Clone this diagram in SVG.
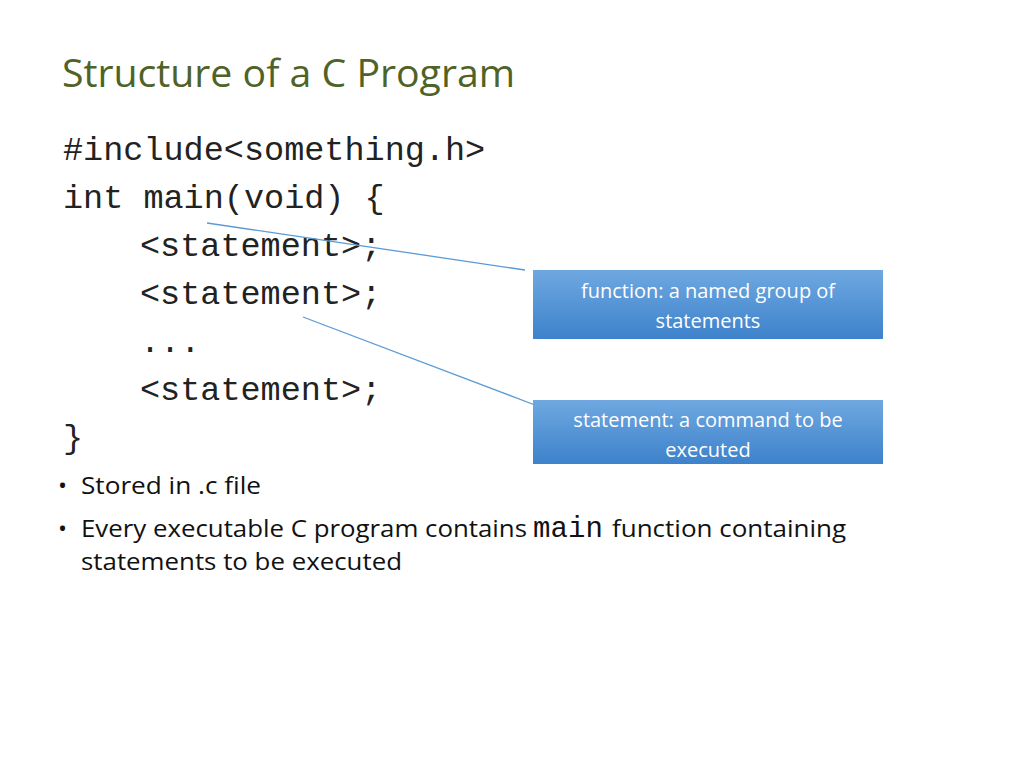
<svg xmlns="http://www.w3.org/2000/svg" width="1024" height="768" viewBox="0 0 1024 768">
<defs>
<linearGradient id="g" x1="0" y1="0" x2="0" y2="1"><stop offset="0" stop-color="#6fa8e0"/><stop offset="1" stop-color="#3d82cb"/></linearGradient>
<style>
.code{font-family:"Liberation Mono",monospace;font-size:33.5px;fill:#222}
.body{font-family:"Open Sans","Liberation Sans",sans-serif;font-size:24px;fill:#111}
.box{fill:url(#g)}
.bt{font-family:"Open Sans","Liberation Sans",sans-serif;font-size:20px;fill:#fff;text-anchor:middle}
.c{stroke:#5b9bd5;stroke-width:1.3;fill:none}
</style>
</defs>
<rect width="1024" height="768" fill="#fff"/>
<text x="62" y="87" font-family="'Open Sans','Liberation Sans',sans-serif" font-size="38" fill="#4f6228" textLength="453" lengthAdjust="spacingAndGlyphs">Structure of a C Program</text>
<g id="code">
<text class="code" x="63" y="160">#include&lt;something.h&gt;</text>
<text class="code" x="63" y="208">int main(void) {</text>
<text class="code" x="140" y="256">&lt;statement&gt;;</text>
<text class="code" x="140" y="304">&lt;statement&gt;;</text>
<text class="code" x="140" y="352">...</text>
<text class="code" x="140" y="400">&lt;statement&gt;;</text>
<text class="code" x="63" y="448">}</text>
</g>
<g id="connectors">
<line class="c" x1="207" y1="223" x2="525" y2="270"/>
<line class="c" x1="303" y1="317" x2="535" y2="405"/>
</g>
<g id="function-box">
<rect class="box" x="533" y="270" width="350" height="69"/>
<text class="bt" x="708" y="298">function: a named group of</text>
<text class="bt" x="708" y="328">statements</text>
</g>
<g id="statement-box">
<rect class="box" x="533" y="400" width="350" height="64"/>
<text class="bt" x="708" y="427">statement: a command to be</text>
<text class="bt" x="708" y="457">executed</text>
</g>
<g id="bullets">
<text class="body" x="58" y="494">•</text>
<text class="body" x="81" y="494" textLength="180" lengthAdjust="spacingAndGlyphs">Stored in .c file</text>
<text class="body" x="58" y="537">•</text>
<text class="body" x="81" y="537" textLength="446" lengthAdjust="spacingAndGlyphs">Every executable C program contains</text>
<text x="533" y="537" font-family="'Liberation Mono',monospace" font-size="29" fill="#111" textLength="70">main</text>
<text class="body" x="612" y="537" textLength="234" lengthAdjust="spacingAndGlyphs">function containing</text>
<text class="body" x="81" y="570" textLength="321" lengthAdjust="spacingAndGlyphs">statements to be executed</text>
</g>
</svg>
